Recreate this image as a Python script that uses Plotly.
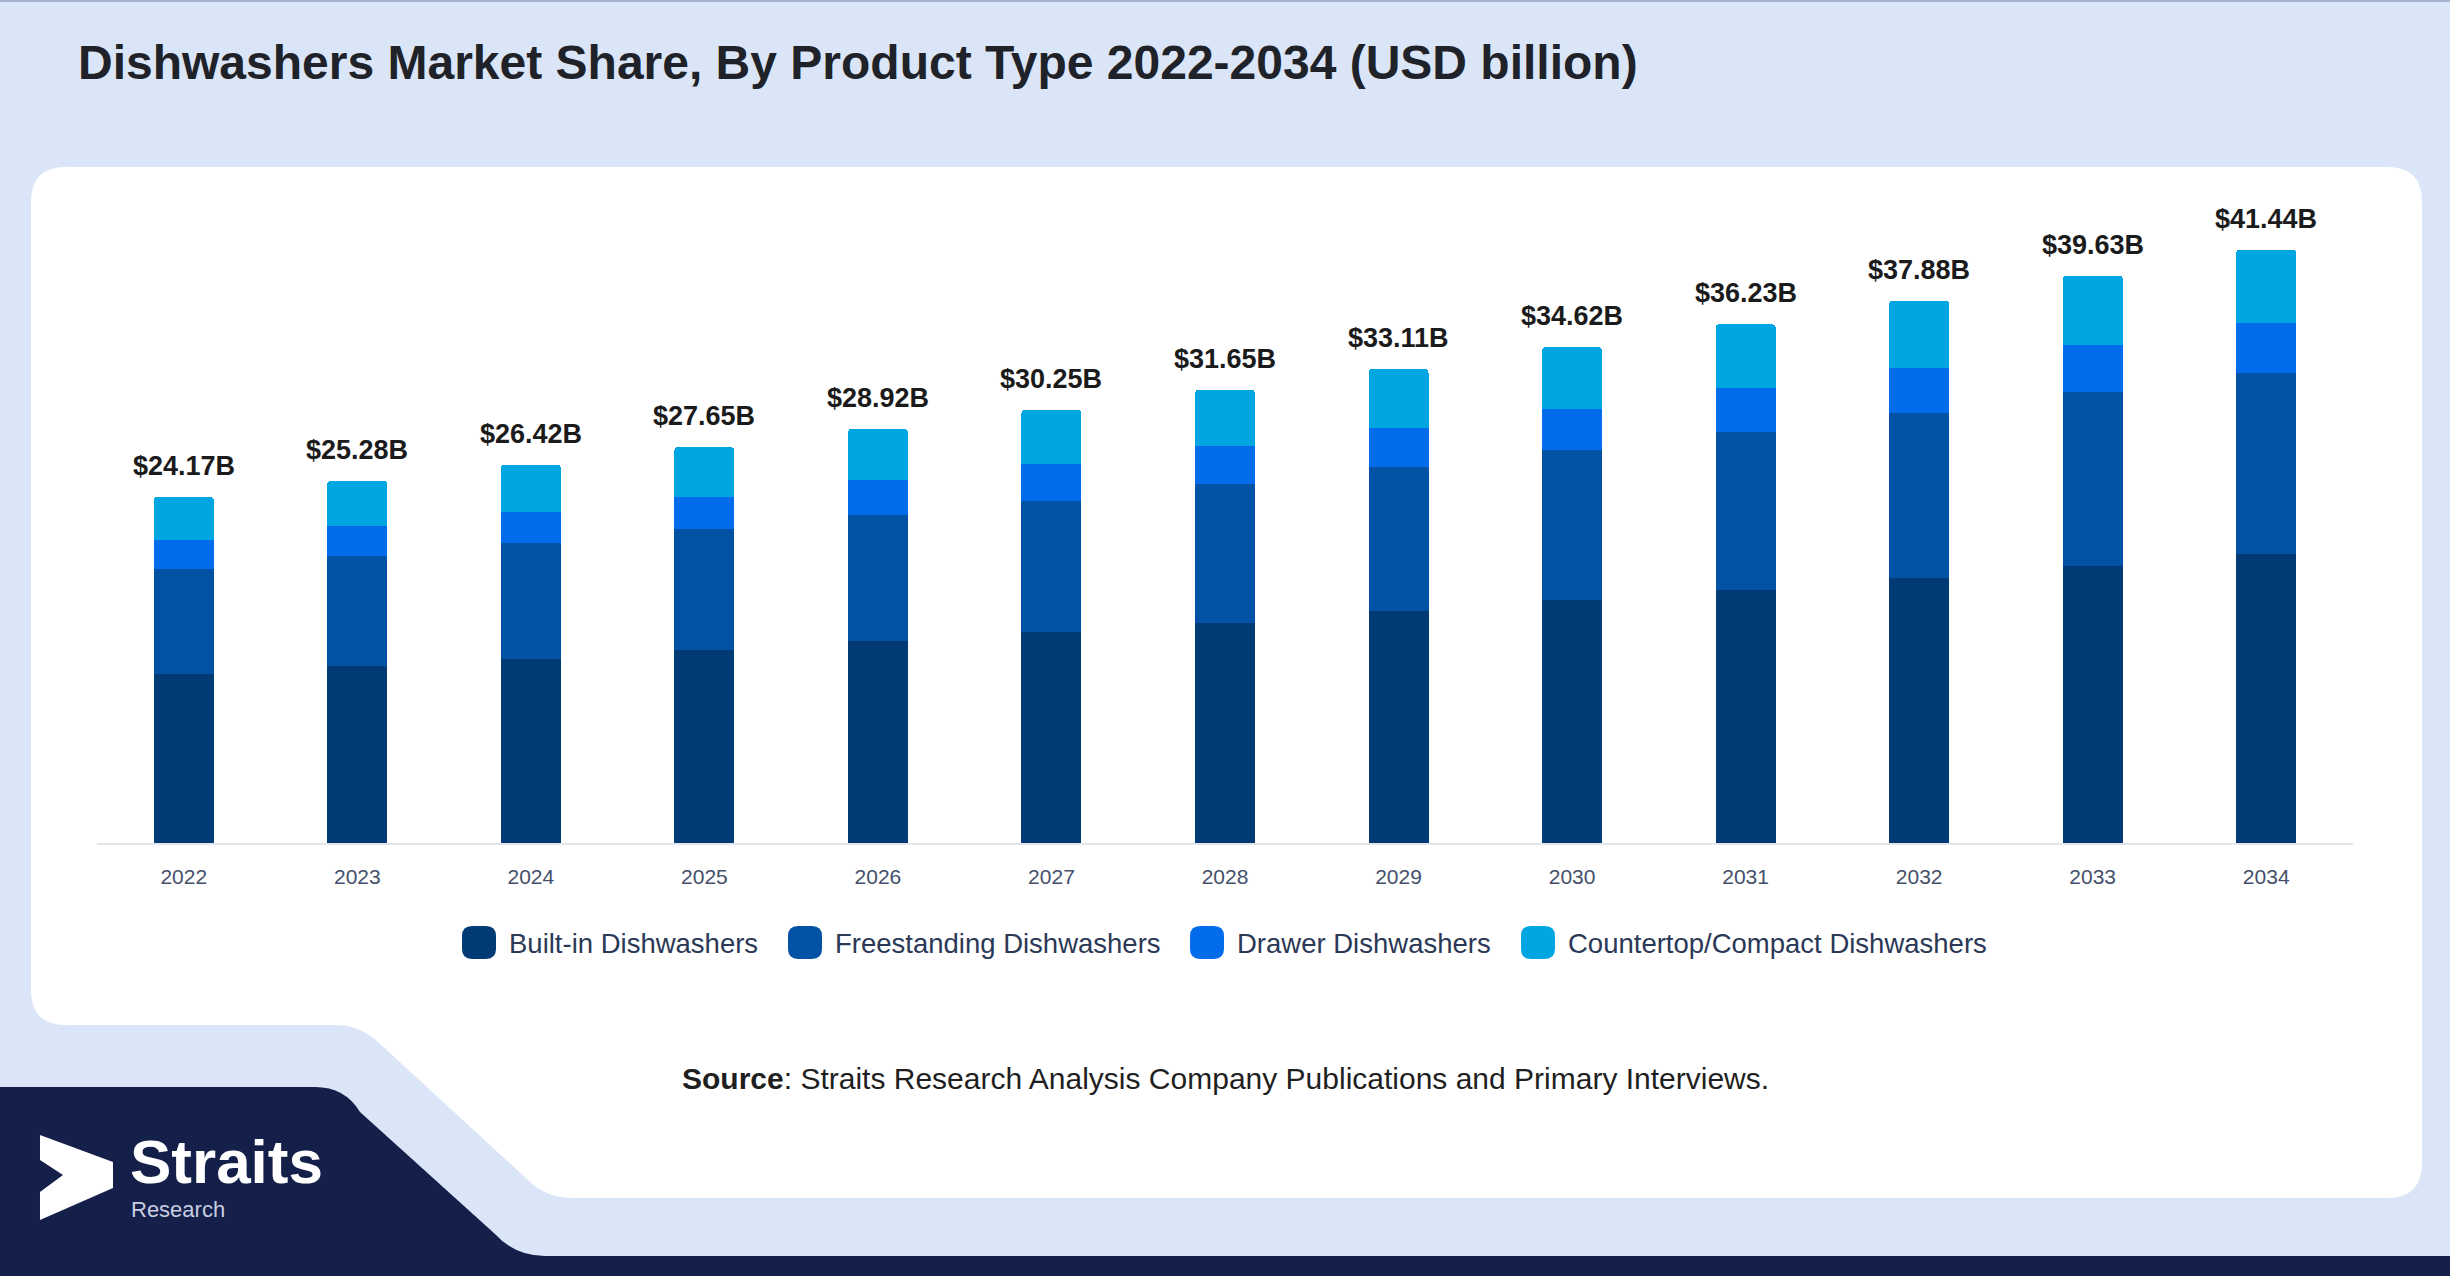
import plotly.graph_objects as go

years = ['2022', '2023', '2024', '2025', '2026', '2027', '2028',
         '2029', '2030', '2031', '2032', '2033', '2034']
built_in = [11.82, 12.33, 12.87, 13.48, 14.14, 14.76, 15.37, 16.19, 16.95, 17.66, 18.50, 19.37, 20.20]
freestanding = [7.33, 7.73, 8.08, 8.45, 8.80, 9.15, 9.68, 10.10, 10.50, 11.06, 11.55, 12.10, 12.65]
drawer = [2.03, 2.09, 2.16, 2.21, 2.44, 2.58, 2.65, 2.72, 2.84, 3.02, 3.12, 3.29, 3.46]
countertop = [2.99, 3.13, 3.31, 3.51, 3.54, 3.76, 3.95, 4.10, 4.33, 4.49, 4.71, 4.87, 5.13]
totals = [24.17, 25.28, 26.42, 27.65, 28.92, 30.25, 31.65, 33.11, 34.62, 36.23, 37.88, 39.63, 41.44]

series_names = ['Built-in Dishwashers', 'Freestanding Dishwashers',
                'Drawer Dishwashers', 'Countertop/Compact Dishwashers']
colors = ['#023a76', '#0352a5', '#026cea', '#00a6e1']

W, H = 2450, 1276
L, R, T, B = 97, 97, 199, 433
PW, PH = W - L - R, H - T - B
FONT = 'Liberation Sans, Arial, sans-serif'


# pixel -> paper coordinates
def px(x):
    return (x - L) / PW


def py(y):
    return (H - B - y) / PH


def path(cmds):
    out = ''
    for c in cmds:
        if isinstance(c, str):
            out += c
        else:
            out += f'{px(c[0]):.5f},{py(c[1]):.5f} '
    return out


def rrect(x0, y0, x1, y1, r):
    return path(['M', (x0 + r, y0), 'L', (x1 - r, y0), 'Q', (x1, y0), (x1, y0 + r),
                 'L', (x1, y1 - r), 'Q', (x1, y1), (x1 - r, y1), 'L', (x0 + r, y1),
                 'Q', (x0, y1), (x0, y1 - r), 'L', (x0, y0 + r), 'Q', (x0, y0), (x0 + r, y0), 'Z'])


fig = go.Figure()
for name, vals, col in zip(series_names, [built_in, freestanding, drawer, countertop], colors):
    fig.add_trace(go.Bar(x=years, y=vals, name=name, marker=dict(color=col, line=dict(width=0)),
                         showlegend=False))

shapes = []
# white panel with the cut-out at bottom left
panel = path(['M', (31, 202), 'Q', (31, 167), (66, 167), 'L', (2387, 167), 'Q', (2422, 167), (2422, 202),
              'L', (2422, 1163), 'Q', (2422, 1198), (2387, 1198), 'L', (575, 1198),
              'Q', (545, 1198), (528, 1180), 'L', (378, 1042), 'Q', (360, 1025), (335, 1025),
              'L', (66, 1025), 'Q', (31, 1025), (31, 990), 'Z'])
shapes.append(dict(type='path', path=panel, xref='paper', yref='paper', fillcolor='white',
                   line=dict(width=0), layer='below'))
# navy footer
navy = path(['M', (0, 1087), 'L', (315, 1087), 'Q', (345, 1087), (360, 1112), 'L', (495, 1234),
             'Q', (515, 1256), (545, 1256), 'L', (2450, 1256), 'L', (2450, 1276), 'L', (0, 1276), 'Z'])
shapes.append(dict(type='path', path=navy, xref='paper', yref='paper', fillcolor='#14204a',
                   line=dict(width=0), layer='below'))
# top border
shapes.append(dict(type='rect', xref='paper', yref='paper', x0=px(0), x1=px(W), y0=py(0), y1=py(2),
                   fillcolor='#a3b2cf', line=dict(width=0), layer='below'))
# logo arrow
logo = path(['M', (40, 1135), 'L', (113, 1162), 'L', (113, 1188), 'L', (40, 1220), 'L', (40, 1192),
             'L', (63, 1175), 'L', (40, 1160), 'Z'])
shapes.append(dict(type='path', path=logo, xref='paper', yref='paper', fillcolor='white',
                   line=dict(width=0), layer='below'))

# legend drawn by hand
legend_marker_x = [462, 788, 1190, 1521]
legend_text_x = [507, 833, 1235, 1566]
for mx, tx, col, name in zip(legend_marker_x, legend_text_x, colors, series_names):
    shapes.append(dict(type='path', path=rrect(mx, 926, mx + 34, 959, 10), xref='paper', yref='paper',
                       fillcolor=col, line=dict(width=0)))

annotations = []
# total labels; x given as category index so numeric-looking years are not read as numbers
for i, tot in enumerate(totals):
    annotations.append(dict(x=i, y=tot, xref='x', yref='y', text=f'${tot:.2f}B', showarrow=False,
                            yanchor='middle', yshift=31,
                            font=dict(family=FONT, size=27, color='#1b1b1b', weight='bold')))
for tx, name in zip(legend_text_x, series_names):
    annotations.append(dict(x=px(tx), y=py(943), xref='paper', yref='paper', text=name, showarrow=False,
                            xanchor='left', yanchor='middle',
                            font=dict(family=FONT, size=27.5, color='#2b3856')))

annotations += [
    dict(x=px(76), y=py(62), xref='paper', yref='paper', xanchor='left', yanchor='middle', showarrow=False,
         text='<b>Dishwashers Market Share, By Product Type 2022-2034 (USD billion)</b>',
         font=dict(family=FONT, size=48, color='#1f2329')),
    dict(x=px(1225), y=py(1078), xref='paper', yref='paper', xanchor='center', yanchor='middle',
         showarrow=False,
         text='<b>Source</b>: Straits Research Analysis Company Publications and Primary Interviews.',
         font=dict(family=FONT, size=30, color='#1f1f1f')),
    dict(x=px(128), y=py(1161), xref='paper', yref='paper', xanchor='left', yanchor='middle',
         showarrow=False, text='<b>Straits</b>',
         font=dict(family=FONT, size=62, color='white')),
    dict(x=px(129), y=py(1209), xref='paper', yref='paper', xanchor='left', yanchor='middle',
         showarrow=False, text='Research',
         font=dict(family=FONT, size=22, color='#c9cee0')),
]

fig.update_layout(
    width=W, height=H, autosize=False,
    margin=dict(l=L, r=R, t=T, b=B, pad=0),
    paper_bgcolor='#dae6f8',
    plot_bgcolor='rgba(0,0,0,0)',
    barmode='stack',
    bargap=0.654,
    barcornerradius=4,
    showlegend=False,
    shapes=shapes,
    annotations=annotations,
    font=dict(family=FONT),
)
fig.update_xaxes(type='category', range=[-0.5, len(years) - 0.5], showline=True, linecolor='#e2e5ea',
                 linewidth=2, showgrid=False, ticks='', ticklabelstandoff=14,
                 tickfont=dict(family=FONT, size=21, color='#44506a'), zeroline=False, fixedrange=True)
fig.update_yaxes(visible=False, range=[0, PH / 14.32], showgrid=False, zeroline=False, fixedrange=True)

fig.write_html('out.html', config={'displayModeBar': False},
               post_script="document.body.style.margin='0';")
